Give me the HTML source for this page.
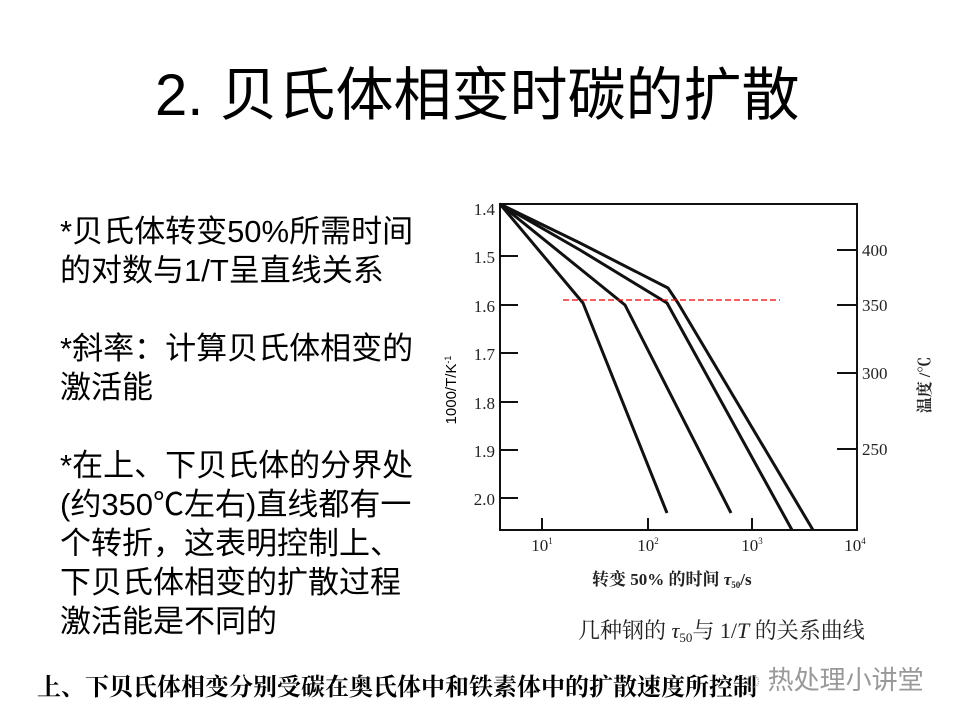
<!DOCTYPE html>
<html><head><meta charset="utf-8"><style>
body{margin:0;width:960px;height:720px;background:#fff;position:relative;overflow:hidden;font-family:"Liberation Sans","Noto Sans CJK SC",sans-serif;}
.t{position:absolute;white-space:nowrap;}
#title{left:155px;top:48px;font-size:58px;color:#000;}
#left{position:absolute;left:60px;top:212px;width:352px;overflow:hidden;font-size:31px;line-height:39px;color:#000;}
#left div{white-space:nowrap;height:39px;}
#bottom{left:37px;top:667px;font-size:24px;font-family:"Liberation Serif","Noto Serif CJK SC",serif;font-weight:bold;}
#wm{left:745px;top:660px;font-size:26px;color:#999;}
</style></head><body>
<div class="t" id="title">2. 贝氏体相变时碳的扩散</div>
<div id="left">
<div>*贝氏体转变50%所需时间</div>
<div>的对数与1/T呈直线关系</div>
<div></div>
<div>*斜率：计算贝氏体相变的</div>
<div>激活能</div>
<div></div>
<div>*在上、下贝氏体的分界处</div>
<div>(约350℃左右)直线都有一</div>
<div>个转折，这表明控制上、</div>
<div>下贝氏体相变的扩散过程</div>
<div>激活能是不同的</div>
</div>
<svg style="position:absolute;left:0;top:0" width="960" height="720">
<g font-family="Liberation Serif,serif" font-size="17" fill="#222">
<rect x="500" y="204" width="357" height="326" fill="none" stroke="#111" stroke-width="2"/>
<g stroke="#111" stroke-width="2">
<line x1="500" y1="256" x2="518" y2="256"/><line x1="500" y1="305" x2="518" y2="305"/>
<line x1="500" y1="353" x2="518" y2="353"/><line x1="500" y1="402" x2="518" y2="402"/>
<line x1="500" y1="450" x2="518" y2="450"/><line x1="500" y1="498" x2="518" y2="498"/>
<line x1="837" y1="250" x2="857" y2="250"/><line x1="837" y1="305" x2="857" y2="305"/>
<line x1="837" y1="373" x2="857" y2="373"/><line x1="837" y1="449" x2="857" y2="449"/>
<line x1="542" y1="530" x2="542" y2="518"/><line x1="648" y1="530" x2="648" y2="518"/>
<line x1="752" y1="530" x2="752" y2="518"/>
</g>
<g text-anchor="end">
<text x="495" y="215">1.4</text><text x="495" y="263">1.5</text><text x="495" y="312">1.6</text>
<text x="495" y="360">1.7</text><text x="495" y="409">1.8</text><text x="495" y="457">1.9</text><text x="495" y="505">2.0</text>
</g>
<text x="862" y="256">400</text><text x="862" y="311">350</text><text x="862" y="379">300</text><text x="862" y="455">250</text>
<g text-anchor="middle">
<text x="542" y="551">10<tspan font-size="9" dy="-7">1</tspan></text>
<text x="648" y="551">10<tspan font-size="9" dy="-7">2</tspan></text>
<text x="752" y="551">10<tspan font-size="9" dy="-7">3</tspan></text>
<text x="855" y="551">10<tspan font-size="9" dy="-7">4</tspan></text>
</g>
<g fill="none" stroke="#111" stroke-width="3" stroke-linejoin="round">
<polyline points="500,204 583,303 667,513"/>
<polyline points="500,204 625,305 731,513"/>
<polyline points="500,204 580,250 667,303 792,530"/>
<polyline points="500,204 580,243 668,288 678,303 813,530"/>
</g>
<line x1="563" y1="300" x2="780" y2="300" stroke="#e00" stroke-width="1.3" stroke-dasharray="6,3"/>
<text x="592" y="585" font-weight="bold" font-size="17" font-family="Liberation Serif,Noto Serif CJK SC,serif">转变 50% 的时间 <tspan font-style="italic">τ</tspan><tspan font-size="9" dy="3">50</tspan><tspan dy="-3">/s</tspan></text>
<text x="578" y="638" font-size="22" font-family="Liberation Serif,Noto Serif CJK SC,serif">几种钢的 <tspan font-style="italic">τ</tspan><tspan font-size="13" dy="4">50</tspan><tspan dy="-4">与 1/</tspan><tspan font-style="italic">T</tspan> 的关系曲线</text>
<text transform="translate(930,385) rotate(-90)" text-anchor="middle" font-size="16" font-weight="bold" font-family="Liberation Serif,Noto Serif CJK SC,serif">温度 /℃</text>
</g>
<text transform="translate(456,390) rotate(-90)" text-anchor="middle" font-size="15" font-family="Liberation Sans,sans-serif" fill="#000">1000/T/K<tspan font-size="9" dy="-5">-1</tspan></text>
</svg>
<div class="t" id="bottom">上、下贝氏体相变分别受碳在奥氏体中和铁素体中的扩散速度所控制</div>
<div class="t" id="wm">◌ 热处理小讲堂</div>
</body></html>
